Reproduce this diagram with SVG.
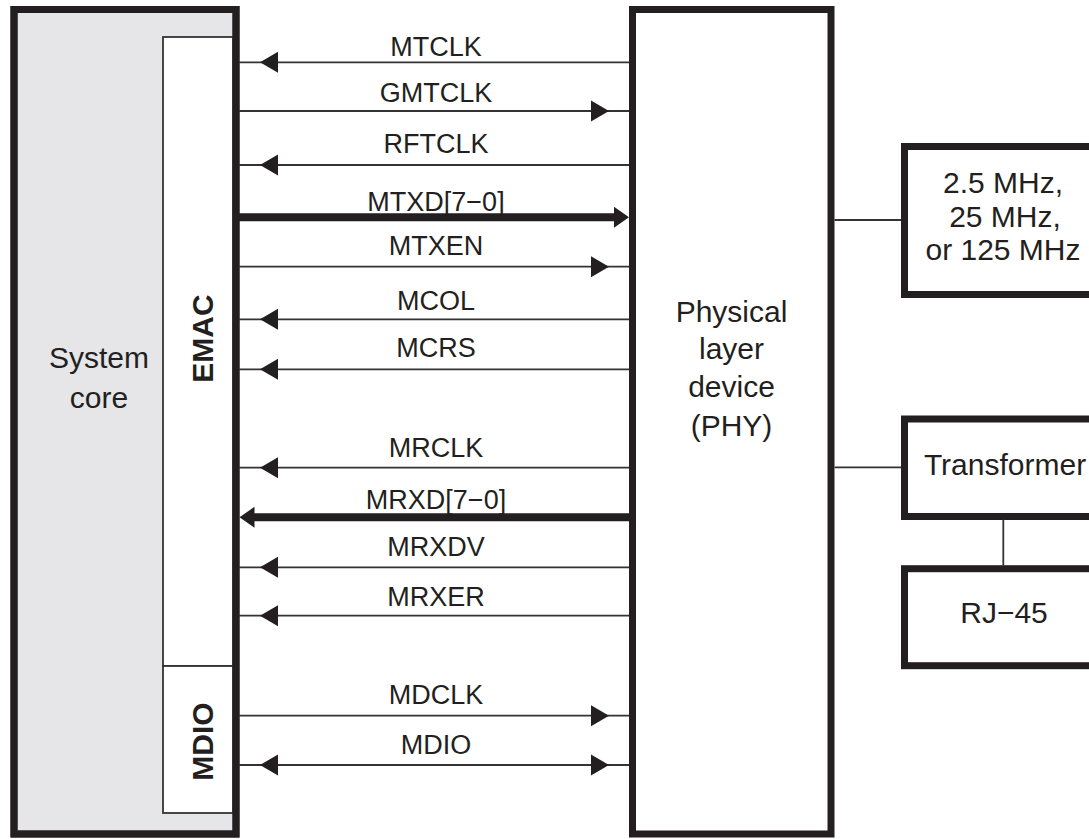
<svg xmlns="http://www.w3.org/2000/svg" width="1089" height="839" viewBox="0 0 1089 839">
<style>
.box{fill:#ffffff;stroke:#231f20;stroke-width:7}
.core{fill:#e6e6e9;stroke:#231f20;stroke-width:7}
.thin{fill:#ffffff;stroke:#333333;stroke-width:1.8}
.sig{stroke:#333333;stroke-width:1.8;fill:none}
.bus{stroke:#231f20;stroke-width:8;fill:none}
.lbl{font-family:"Liberation Sans",Arial,sans-serif;font-size:27px;fill:#231f20;text-anchor:middle}
.big{font-family:"Liberation Sans",Arial,sans-serif;font-size:30px;fill:#231f20;text-anchor:middle}
.vert{font-family:"Liberation Sans",Arial,sans-serif;font-size:30px;font-weight:bold;fill:#231f20;text-anchor:middle}
.ah{fill:#231f20}
</style>
<defs>
<path id="ah" class="ah" d="M0,0 L-18,-10.5 L-18,10.5 Z"/>
<path id="ahb" class="ah" d="M0,0 L-15,-10.5 L-15,10.5 Z"/>
</defs>
<g id="system-core">
<rect class="core" x="14" y="9.5" width="222" height="824.5"/>
<text class="big" x="99" y="368">System</text>
<text class="big" x="99" y="408">core</text>
</g>
<g id="emac">
<rect class="thin" x="163" y="37" width="70" height="629"/>
<text class="vert" transform="rotate(-90 213 338.5)" x="213" y="338.5">EMAC</text>
</g>
<g id="mdio">
<rect class="thin" x="163" y="666" width="70" height="147"/>
<text class="vert" transform="rotate(-90 213 741.5)" x="213" y="741.5">MDIO</text>
</g>
<rect x="14" y="9.5" width="222" height="824.5" fill="none" stroke="#231f20" stroke-width="7"/>
<g id="phy">
<rect class="box" x="632.5" y="9.5" width="198.5" height="824.5"/>
<text class="big" x="731.5" y="321.7">Physical</text>
<text class="big" x="731.5" y="359">layer</text>
<text class="big" x="731.5" y="397">device</text>
<text class="big" x="731.5" y="436">(PHY)</text>
</g>
<g id="clock">
<rect class="box" x="904.5" y="146.5" width="200" height="148"/>
<text class="big" x="1003" y="193">2.5 MHz,</text>
<text class="big" x="1005" y="226.5">25 MHz,</text>
<text class="big" x="1003" y="259.5">or 125 MHz</text>
</g>
<g id="transformer">
<rect class="box" x="904.5" y="419" width="200" height="97.5"/>
<text class="big" x="1005" y="475">Transformer</text>
</g>
<g id="rj45">
<rect class="box" x="904.5" y="568.7" width="200" height="97"/>
<text class="big" x="1004" y="623.3">RJ−45</text>
</g>
<g id="connectors">
<line class="sig" x1="239" y1="62.3" x2="629" y2="62.3"/>
<use href="#ah" transform="translate(260 62.3) scale(-1 1)"/>
<text class="lbl" x="436" y="56">MTCLK</text>
<line class="sig" x1="239" y1="111" x2="629" y2="111"/>
<use href="#ah" transform="translate(609 111)"/>
<text class="lbl" x="436" y="101.7">GMTCLK</text>
<line class="sig" x1="239" y1="165" x2="629" y2="165"/>
<use href="#ah" transform="translate(260 165) scale(-1 1)"/>
<text class="lbl" x="436" y="153">RFTCLK</text>
<line class="bus" x1="239" y1="217.3" x2="616" y2="217.3"/>
<use href="#ahb" transform="translate(629 217.3)"/>
<text class="lbl" x="436" y="210.7">MTXD[7−0]</text>
<line class="sig" x1="239" y1="266.7" x2="629" y2="266.7"/>
<use href="#ah" transform="translate(609 266.7)"/>
<text class="lbl" x="436" y="255">MTXEN</text>
<line class="sig" x1="239" y1="319.3" x2="629" y2="319.3"/>
<use href="#ah" transform="translate(260 319.3) scale(-1 1)"/>
<text class="lbl" x="436" y="310">MCOL</text>
<line class="sig" x1="239" y1="369.3" x2="629" y2="369.3"/>
<use href="#ah" transform="translate(260 369.3) scale(-1 1)"/>
<text class="lbl" x="436" y="357.3">MCRS</text>
<line class="sig" x1="239" y1="467.7" x2="629" y2="467.7"/>
<use href="#ah" transform="translate(260 467.7) scale(-1 1)"/>
<text class="lbl" x="436" y="456.7">MRCLK</text>
<line class="bus" x1="252" y1="517.3" x2="629" y2="517.3"/>
<use href="#ahb" transform="translate(239.5 517.3) scale(-1 1)"/>
<text class="lbl" x="436" y="509.3">MRXD[7−0]</text>
<line class="sig" x1="239" y1="567.3" x2="629" y2="567.3"/>
<use href="#ah" transform="translate(260 567.3) scale(-1 1)"/>
<text class="lbl" x="436" y="556">MRXDV</text>
<line class="sig" x1="239" y1="615.7" x2="629" y2="615.7"/>
<use href="#ah" transform="translate(260 615.7) scale(-1 1)"/>
<text class="lbl" x="436" y="606">MRXER</text>
<line class="sig" x1="239" y1="715.7" x2="629" y2="715.7"/>
<use href="#ah" transform="translate(609 715.7)"/>
<text class="lbl" x="436" y="704.3">MDCLK</text>
<line class="sig" x1="239" y1="765" x2="629" y2="765"/>
<use href="#ah" transform="translate(260 765) scale(-1 1)"/>
<use href="#ah" transform="translate(609 765)"/>
<text class="lbl" x="436" y="754">MDIO</text>
<line class="sig" x1="834.5" y1="220" x2="901" y2="220"/>
<line class="sig" x1="834.5" y1="467.3" x2="901" y2="467.3"/>
<line class="sig" x1="1003.3" y1="519.5" x2="1003.3" y2="565.5"/>
</g>
</svg>
